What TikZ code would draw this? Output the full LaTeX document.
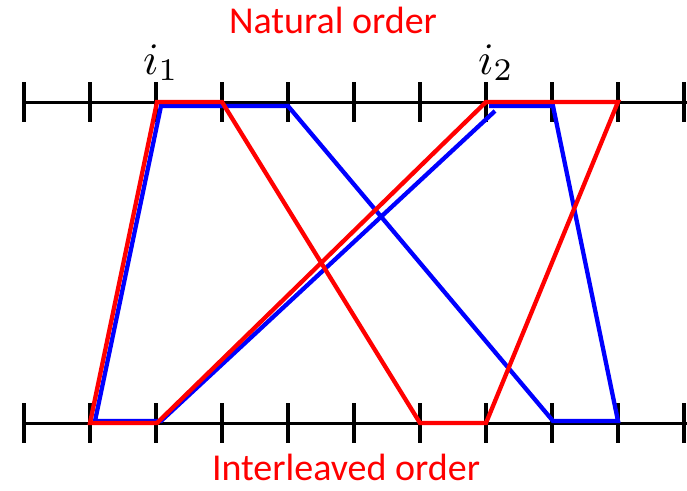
\documentclass[tikz,border=0pt]{standalone}
\usepackage{fontspec}
\setmainfont{Carlito}
\begin{document}
\begin{tikzpicture}[x=1pt,y=-1pt,
  axis/.style={line width=3pt,black},
  tick/.style={line width=3.6pt,black},
  redp/.style={line width=4.3pt,red,line join=miter},
  bluep/.style={line width=4.3pt,blue,line join=miter},
  lab/.style={text=red,inner sep=0pt,font=\fontsize{38}{38}\selectfont},
  ilab/.style={inner sep=0pt}]
\useasboundingbox (0,0) rectangle (687,490);
% axes
\draw[axis] (24,102) -- (687,102);
\draw[axis] (24,423) -- (687,423);
\foreach \k in {0,...,10}{
  \draw[tick] ({24+66*\k},82) -- ({24+66*\k},122);
  \draw[tick] ({24+66*\k},403) -- ({24+66*\k},443);
}
% blue path
\draw[bluep] (495,111) -- (161,421) -- (95,421) -- (161,106) -- (288,106) -- (553,421) -- (618,421) -- (553,106) -- (489,106);
% red path
\draw[redp] (90,423) -- (157,102) -- (222,102) -- (420,423) -- (486,423) -- (618,102) -- (486,102) -- (157,423) -- cycle;
% labels
\node[lab,anchor=base] (nat) at (333,33) {Natural order};
\node[lab,anchor=base] (int) at (346,480) {Interleaved order};
\node[ilab,anchor=base] (i1) at (161,74) {\scalebox{4.5}{$i_1$}};
\node[ilab,anchor=base] (i2) at (496,74) {\scalebox{4.5}{$i_2$}};
\end{tikzpicture}
\end{document}
